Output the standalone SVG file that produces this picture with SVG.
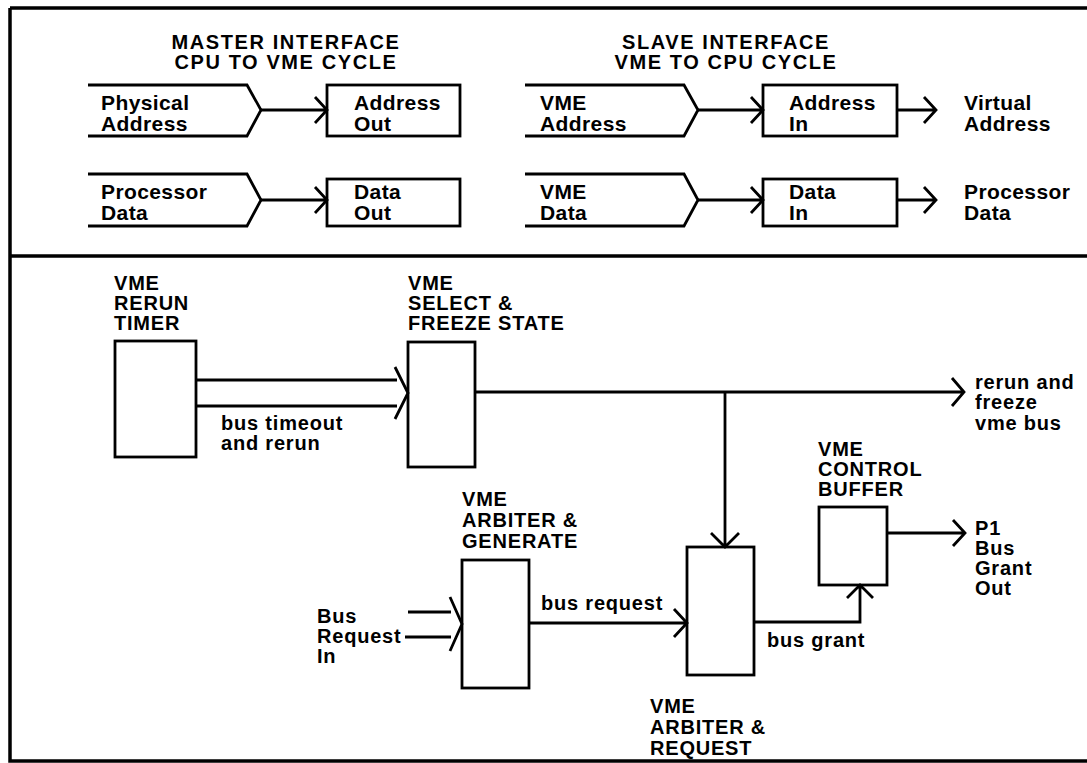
<svg xmlns="http://www.w3.org/2000/svg" width="1087" height="763" viewBox="0 0 1087 763">
<style>
.ln{fill:none;stroke:#000;stroke-width:2.8;stroke-linejoin:miter;stroke-linecap:butt}
.bx{fill:#fff;stroke:#000;stroke-width:2.8}
.fr{fill:none;stroke:#000;stroke-width:3.5}
text{font-family:"Liberation Sans",Arial,sans-serif;font-weight:bold;fill:#000}
.t{font-size:21px;letter-spacing:0.4px}
.b{font-size:20px;letter-spacing:0.8px}
.h{font-size:20px;letter-spacing:1.6px;text-anchor:middle}
</style>
<rect width="1087" height="763" fill="#fff"/>
<g id="frame">
<path class="fr" d="M10,8 H1087 M10,8 V761 H1087 M10,256 H1087"/>
</g>
<g id="titles">
<text class="h" x="286" y="49">MASTER INTERFACE</text>
<text class="h" x="286" y="69">CPU TO VME CYCLE</text>
<text class="h" x="726" y="49">SLAVE INTERFACE</text>
<text class="h" x="726" y="69">VME TO CPU CYCLE</text>
</g>
<g id="physical-address">
<path class="ln" d="M88,85 H247 L261,110 L247,136 H88"/>
<text class="t" x="101" y="110">Physical</text>
<text class="t" x="101" y="131">Address</text>
</g>
<g id="address-out">
<rect class="bx" x="327" y="85" width="133" height="51"/>
<text class="t" x="354" y="110">Address</text>
<text class="t" x="354" y="131">Out</text>
</g>
<g id="processor-data-in">
<path class="ln" d="M88,174 H247 L261,200 L247,226 H88"/>
<text class="t" x="101" y="199">Processor</text>
<text class="t" x="101" y="220">Data</text>
</g>
<g id="data-out">
<rect class="bx" x="327" y="179" width="133" height="47"/>
<text class="t" x="354" y="199">Data</text>
<text class="t" x="354" y="220">Out</text>
</g>
<g id="vme-address">
<path class="ln" d="M525,85 H684 L698,110 L684,136 H525"/>
<text class="t" x="540" y="110">VME</text>
<text class="t" x="540" y="131">Address</text>
</g>
<g id="address-in">
<rect class="bx" x="763" y="85" width="134" height="51"/>
<text class="t" x="789" y="110">Address</text>
<text class="t" x="789" y="131">In</text>
</g>
<g id="virtual-address">
<text class="t" x="964" y="110">Virtual</text>
<text class="t" x="964" y="131">Address</text>
</g>
<g id="vme-data">
<path class="ln" d="M525,174 H684 L698,200 L684,226 H525"/>
<text class="t" x="540" y="199">VME</text>
<text class="t" x="540" y="220">Data</text>
</g>
<g id="data-in">
<rect class="bx" x="763" y="179" width="134" height="47"/>
<text class="t" x="789" y="199">Data</text>
<text class="t" x="789" y="220">In</text>
</g>
<g id="processor-data-out">
<text class="t" x="964" y="199">Processor</text>
<text class="t" x="964" y="220">Data</text>
</g>
<g id="rerun-timer">
<text class="b" x="114" y="290">VME</text>
<text class="b" x="114" y="310">RERUN</text>
<text class="b" x="114" y="330">TIMER</text>
<rect class="bx" x="115" y="341" width="81" height="116"/>
</g>
<g id="select-freeze">
<text class="b" x="408" y="290">VME</text>
<text class="b" x="408" y="310">SELECT &amp;</text>
<text class="b" x="408" y="330">FREEZE STATE</text>
<rect class="bx" x="408" y="342" width="67" height="125"/>
</g>
<g id="rerun-freeze-out">
<text class="b" x="975" y="389">rerun and</text>
<text class="b" x="975" y="409">freeze</text>
<text class="b" x="975" y="430">vme bus</text>
</g>
<g id="arbiter-generate">
<text class="b" x="462" y="506">VME</text>
<text class="b" x="462" y="527">ARBITER &amp;</text>
<text class="b" x="462" y="548">GENERATE</text>
<rect class="bx" x="462" y="560" width="67" height="128"/>
</g>
<g id="bus-request-in">
<text class="b" x="317" y="623">Bus</text>
<text class="b" x="317" y="643">Request</text>
<text class="b" x="317" y="663">In</text>
</g>
<g id="arbiter-request">
<rect class="bx" x="687" y="547" width="67" height="128"/>
<text class="b" x="650" y="713">VME</text>
<text class="b" x="650" y="734">ARBITER &amp;</text>
<text class="b" x="650" y="755">REQUEST</text>
</g>
<g id="control-buffer">
<text class="b" x="818" y="456">VME</text>
<text class="b" x="818" y="476">CONTROL</text>
<text class="b" x="818" y="496">BUFFER</text>
<rect class="bx" x="819" y="507" width="68" height="78"/>
</g>
<g id="p1-bus-grant-out">
<text class="b" x="975" y="535">P1</text>
<text class="b" x="975" y="555">Bus</text>
<text class="b" x="975" y="575">Grant</text>
<text class="b" x="975" y="595">Out</text>
</g>
<g id="connectors">
<path class="ln" d="M261,110 H327 M315,97 L327,110 L315,123"/>
<path class="ln" d="M261,200 H327 M315,187 L327,200 L315,213"/>
<path class="ln" d="M698,110 H763 M751,97 L763,110 L751,123"/>
<path class="ln" d="M698,200 H763 M751,187 L763,200 L751,213"/>
<path class="ln" d="M897,110 H936 M924,97 L936,110 L924,123"/>
<path class="ln" d="M897,200 H936 M924,187 L936,200 L924,213"/>
<path class="ln" d="M196,380 H397 M196,406 H397 M395,367 L408,393 L395,419"/>
<text class="b" x="221" y="430">bus timeout</text>
<text class="b" x="221" y="450">and rerun</text>
<path class="ln" d="M475,392 H964 M952,378 L964,392 L952,406"/>
<path class="ln" d="M725,392 V547 M711,533 L725,547 L739,533"/>
<path class="ln" d="M408,612 H451 M405,637 H451 M450,597 L462,624 L450,651"/>
<path class="ln" d="M529,623 H687 M674,609 L687,623 L674,637"/>
<text class="b" x="541" y="610">bus request</text>
<path class="ln" d="M754,622 H860 V585 M847,598 L860,585 L873,598"/>
<text class="b" x="767" y="647">bus grant</text>
<path class="ln" d="M887,533 H965 M953,520 L965,533 L953,546"/>
</g>
</svg>
